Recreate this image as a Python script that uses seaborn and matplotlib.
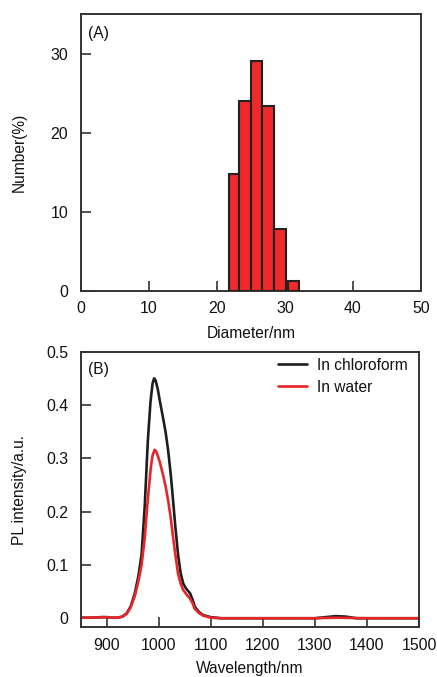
import numpy as np
import pandas as pd
import seaborn as sns
import matplotlib
matplotlib.use("Agg")
import matplotlib.pyplot as plt

# ---------- data ----------
# Panel A: size distribution (bin left edge, bin width, number %)
bin_left = [21.85, 23.3, 25.0, 26.6, 28.4, 30.5]
bin_width = [1.45, 1.7, 1.6, 1.8, 1.8, 1.6]
number_pct = [14.7, 24.0, 29.0, 23.4, 7.8, 1.2]

# Panel B: PL spectra
wl_chloro = [850, 870, 890, 900, 910, 920, 930, 938, 946, 954, 961, 967, 973, 979, 984, 988, 991,
             994, 998, 1002, 1008, 1013, 1018, 1023, 1027.5, 1032, 1037, 1042, 1047, 1053, 1060,
             1065, 1069, 1077, 1085, 1100, 1120, 1200, 1300, 1320, 1340, 1360, 1380, 1400, 1500]
pl_chloro = [0.001, 0.001, 0.002, 0.002, 0.001, 0.001, 0.003, 0.009, 0.022, 0.047, 0.08, 0.12,
             0.21, 0.333, 0.405, 0.44, 0.45, 0.446, 0.43, 0.408, 0.377, 0.35, 0.315, 0.27, 0.221,
             0.17, 0.12, 0.085, 0.065, 0.055, 0.047, 0.035, 0.022, 0.012, 0.006, 0.002, 0.0, 0.0,
             0.0, 0.002, 0.004, 0.003, 0.0, 0.0, 0.0]
wl_water = [850, 870, 890, 900, 910, 920, 930, 938, 946, 954, 961, 967, 973, 977, 981, 985, 988,
            992, 995, 999, 1002, 1008, 1013, 1018, 1023, 1027.5, 1032, 1037, 1042, 1047, 1053, 1060,
            1065, 1069, 1077, 1085, 1100, 1120, 1200, 1300, 1340, 1400, 1500]
pl_water = [0.001, 0.001, 0.002, 0.002, 0.001, 0.001, 0.003, 0.008, 0.02, 0.042, 0.07, 0.1,
            0.15, 0.2, 0.245, 0.285, 0.305, 0.316, 0.313, 0.302, 0.293, 0.27, 0.248, 0.221, 0.188,
            0.152, 0.118, 0.084, 0.065, 0.053, 0.045, 0.037, 0.028, 0.018, 0.01, 0.005, 0.001, 0.0,
            0.0, 0.0, 0.001, 0.0, 0.0]

series_names = ["In chloroform", "In water"]
x_ticks_a = [0, 10, 20, 30, 40, 50]
y_ticks_a = [0, 10, 20, 30]
x_ticks_b = [900, 1000, 1100, 1200, 1300, 1400, 1500]
y_ticks_b = [0, 0.1, 0.2, 0.3, 0.4, 0.5]
y_ticklabels_b = ["0", "0.1", "0.2", "0.3", "0.4", "0.5"]

# ---------- style ----------
sns.set_theme(style="ticks")
plt.rcParams["font.family"] = ["Liberation Sans", "DejaVu Sans"]
FS_TICK = 11.4
FS_LAB = 11.2
plt.rcParams["font.size"] = FS_LAB
frame_col = "#333333"
text_col = "#111111"
plt.rcParams["text.color"] = text_col
plt.rcParams["axes.labelcolor"] = text_col
plt.rcParams["axes.edgecolor"] = frame_col
plt.rcParams["xtick.color"] = frame_col
plt.rcParams["ytick.color"] = frame_col
plt.rcParams["xtick.labelcolor"] = text_col
plt.rcParams["ytick.labelcolor"] = text_col

fig = plt.figure(figsize=(4.37, 6.77), dpi=100)
axA = fig.add_axes([0.1847, 0.5706, 0.7787, 0.4087])
axB = fig.add_axes([0.1847, 0.0734, 0.7740, 0.4071])

# ---------- panel A ----------
axA.bar(bin_left, number_pct, width=bin_width, align="edge",
        color="#ee2a2a", edgecolor="#222222", linewidth=1.5, zorder=3)
axA.set_xlim(0, 50)
axA.set_ylim(0, 35)
axA.set_xticks(x_ticks_a)
axA.set_yticks(y_ticks_a)
axA.set_xlabel("Diameter/nm", fontsize=FS_LAB)
axA.set_ylabel("Number(%)", fontsize=FS_LAB)
axA.xaxis.set_label_coords(0.5, -0.126)
axA.yaxis.set_label_coords(-0.158, 0.5)
axA.text(0.022, 0.958, "(A)", transform=axA.transAxes, ha="left", va="top", fontsize=FS_LAB)

# ---------- panel B ----------
df = pd.concat([
    pd.DataFrame({"Wavelength": wl_chloro, "PL": pl_chloro, "Medium": series_names[0]}),
    pd.DataFrame({"Wavelength": wl_water, "PL": pl_water, "Medium": series_names[1]}),
])
sns.lineplot(data=df, x="Wavelength", y="PL", hue="Medium", ax=axB,
             palette=["#1e1e1e", "#e8262a"], linewidth=1.9, estimator=None, sort=True)
axB.set_xlim(850, 1500)
axB.set_ylim(-0.017, 0.5)
axB.set_xticks(x_ticks_b)
axB.set_yticks(y_ticks_b)
axB.set_yticklabels(y_ticklabels_b)
axB.set_xlabel("Wavelength/nm", fontsize=FS_LAB)
axB.set_ylabel("PL intensity/a.u.", fontsize=FS_LAB)
axB.xaxis.set_label_coords(0.5, -0.124)
axB.yaxis.set_label_coords(-0.159, 0.5)
axB.text(0.022, 0.964, "(B)", transform=axB.transAxes, ha="left", va="top", fontsize=FS_LAB)
leg = axB.legend(loc="upper right", bbox_to_anchor=(1.0, 1.018), frameon=False,
                 fontsize=FS_LAB, handlelength=1.85, handletextpad=0.65,
                 borderaxespad=0.5, borderpad=0.2, labelspacing=0.45)
for h in leg.get_lines():
    h.set_linewidth(1.9)

for ax in (axA, axB):
    for s in ax.spines.values():
        s.set_linewidth(1.4)
        s.set_color(frame_col)
    ax.tick_params(direction="in", length=7, width=1.2, labelsize=FS_TICK)
    ax.tick_params(axis="x", pad=7.5)
    ax.tick_params(axis="y", pad=9)

fig.savefig("out.png", dpi=100)
